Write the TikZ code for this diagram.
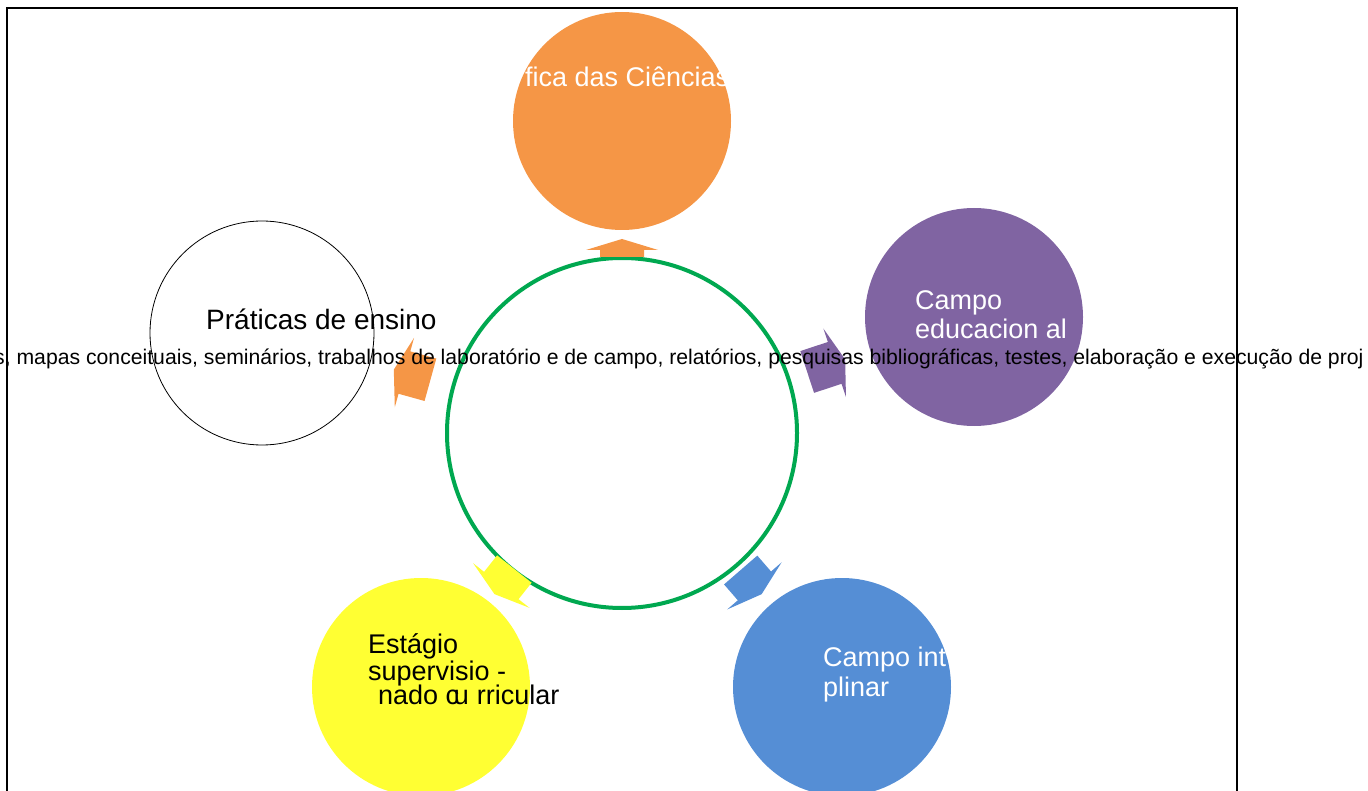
\documentclass[tikz,border=0pt]{standalone}
\usepackage{fontspec}
\setmainfont{Liberation Sans}
\usepackage{tikz}
\usetikzlibrary{calc}
\usepackage{xcolor}
\definecolor{orangec}{RGB}{245,150,70}
\definecolor{purplec}{RGB}{128,100,162}
\definecolor{bluec}{RGB}{85,142,213}
\definecolor{yellowc}{RGB}{255,255,51}
\definecolor{greenc}{RGB}{0,168,80}

\begin{document}
\begin{tikzpicture}[x=1pt,y=-1pt,
    % styles
    bignode/.style={circle, inner sep=0pt, minimum size=218pt},
    hubnode/.style={circle, draw=greenc, line width=4pt, inner sep=0pt, minimum size=350pt},
    pics/blockarr/.style={code={
        \fill[pic actions] (-#1,-22) -- ({#1-11},-22) -- ({#1-11},-36) -- (#1,0)
          -- ({#1-11},36) -- ({#1-11},22) -- (-#1,22) -- cycle;}},
    captext/.style={anchor=base west, inner sep=0pt, font=\fontsize{27}{27}\selectfont},
    ]
    \clip (0,0) rectangle (1368,791);
    % frame
    \draw[line width=2pt] (7,800) -- (7,8) -- (1237,8) -- (1237,800);

    %Nodes
    \node[hubnode] (hub) at (622,433) {};
    \node[bignode, fill=orangec] (ciencias) at (622,121) {};
    \node[bignode, fill=purplec] (educacional) at (974,317) {};
    \node[bignode, fill=bluec] (interdisc) at (842,687) {};
    \node[bignode, fill=yellowc] (estagio) at (421,687) {};
    \node[bignode, minimum size=224pt, fill=white, draw=black, line width=0.8pt] (praticas) at (262,333) {};

    %Arrows
    \path (hub.center) -- (ciencias.center) coordinate[pos=0.593] (aCiencias);
    \path (hub.center) -- (educacional.center) coordinate[pos=0.58] (aEducacional);
    \path (hub.center) -- (interdisc.center) coordinate[pos=0.587] (aInterdisc);
    \path (hub.center) -- (estagio.center) coordinate[pos=0.585] (aEstagio);
    \path (hub.center) -- (praticas.center) coordinate[pos=0.583] (aPraticas);
    \pic[fill=orangec, rotate=90] at (aCiencias) {blockarr=9};
    \pic[fill=purplec, rotate=18.2] at (aEducacional) {blockarr=20};
    \pic[fill=bluec, rotate=-49.1] at (aInterdisc) {blockarr=16};
    \pic[fill=yellowc, rotate=231.6] at (aEstagio) {blockarr=16};
    \pic[fill=orangec, rotate=164.5] at (aPraticas) {blockarr=19};

    %Texts
    \node[captext, text=white] (tCiencias) at (525,87) {fica das Ciências};
    \node[captext, text=white] (tEduc1) at (915,310) {Campo};
    \node[captext, text=white] (tEduc2) at (915,339) {educacion al};
    \node[captext, text=white] (tInter1) at (823,666) {Campo int};
    \node[captext, text=white] (tInter2) at (823,696) {plinar};
    \node[captext] (tEstagio1) at (368,653) {Estágio};
    \node[captext] (tEstagio2) at (368,680) {supervisio -};
    \node[captext] (tEstagio3) at (378,704) {nado c\hspace{-0.2em}u\hspace{0.3em}rricular};
    \node[captext, font=\fontsize{28}{28}\selectfont] (tPraticas) at (206,330) {Práticas de ensino};
    \node[captext, font=\fontsize{21.2}{21.2}\selectfont] (tLista) at (-6,365) {s, mapas conceituais, seminários, trabalhos de laboratório e de campo, relatórios, pesquisas bibliográficas, testes, elaboração e execução de proj};

\end{tikzpicture}
\end{document}
